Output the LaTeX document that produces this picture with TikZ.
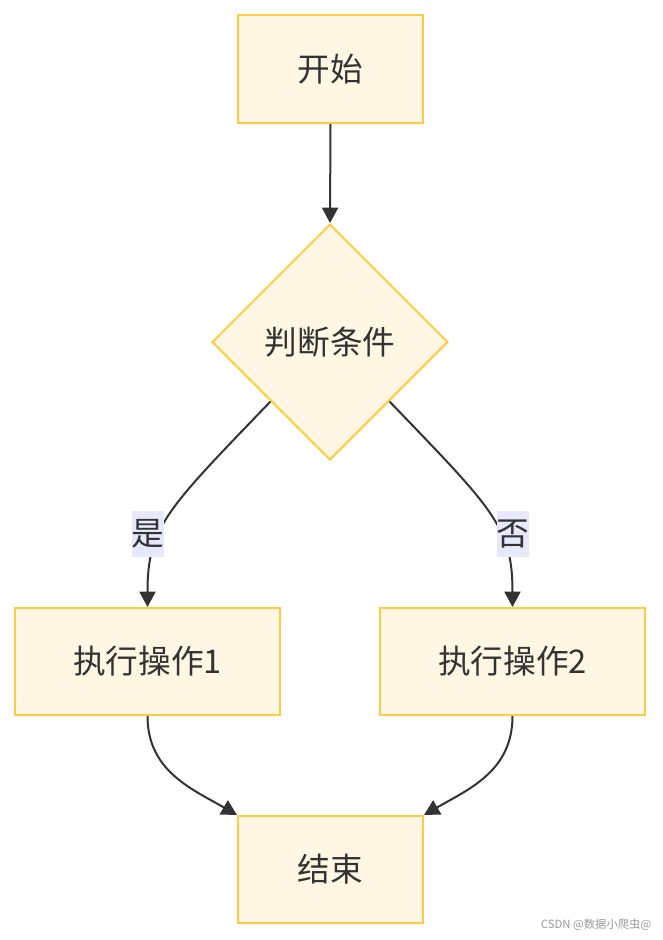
\documentclass[tikz,border=0pt]{standalone}
\usepackage{fontspec}
\setmainfont{Noto Sans CJK SC}
\usetikzlibrary{arrows.meta,shapes.geometric}
\definecolor{BoxFillClr}{RGB}{255,247,228}
\definecolor{BoxLineClr}{RGB}{255,204,68}
\definecolor{LineClr}{RGB}{51,51,51}
\definecolor{LabelClr}{RGB}{232,232,252}

\begin{document}
\begin{tikzpicture}[x=0.75pt,y=-0.75pt,
  box/.style={draw=BoxLineClr,fill=BoxFillClr,line width=1.5pt,inner sep=0pt,
    text=LineClr,font=\fontsize{24.5}{28}\selectfont},
  flow/.style={draw=LineClr,line width=1.5pt,-{Triangle[length=11.5pt,width=12pt]}},
  lbl/.style={fill=LabelClr,inner sep=0pt,minimum width=24pt,minimum height=35pt,
    text=LineClr,font=\fontsize{24.5}{28}\selectfont}]
\useasboundingbox (0,0) rectangle (662,940);

% nodes
\node[box,minimum width=138.75pt,minimum height=81pt] (start) at (330.5,69) {开始};
\node[box,diamond,minimum width=177pt,minimum height=177pt] (cond) at (330,342) {判断条件};
\node[box,minimum width=198.75pt,minimum height=80.25pt] (opA) at (147.5,661.5) {执行操作1};
\node[box,minimum width=198.75pt,minimum height=80.25pt] (opB) at (512.5,661.5) {执行操作2};
\node[box,minimum width=138.75pt,minimum height=80.25pt] (stop) at (330.5,869.5) {结束};

% edges
\draw[flow] (start.south) -- (cond.north);
\draw[flow] (cond.south west) .. controls +(-104,108) and +(0,-80) .. (opA.north);
\draw[flow] (cond.south east) .. controls +(104,108) and +(0,-80) .. (opB.north);
\draw[flow] (opA.south) .. controls +(0,55) and +(-45,-26) .. (stop.north west);
\draw[flow] (opB.south) .. controls +(0,55) and +(45,-26) .. (stop.north east);

% edge labels
\node[lbl] (yes) at (148,534) {是};
\node[lbl] (no) at (513,534) {否};

\node[anchor=east,text=black!40,font=\fontsize{8.5}{10}\selectfont] (wmark) at (656,925) {CSDN @数据小爬虫@};
\end{tikzpicture}
\end{document}
